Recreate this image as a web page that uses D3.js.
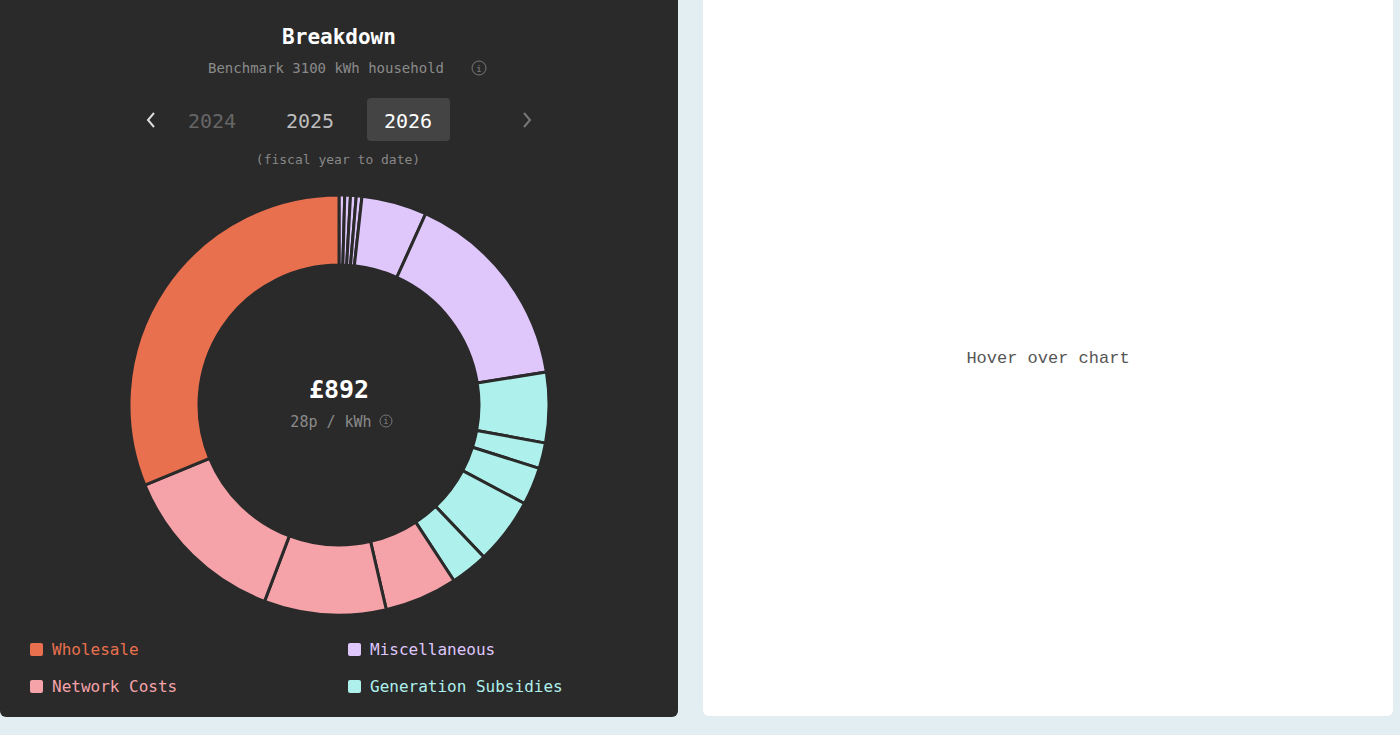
<!DOCTYPE html>
<html lang="en">
  <head>
    <script src="https://d3js.org/d3.v7.min.js"></script>
    <style>
      body { margin: 0; background: #e3eef3; font-family: "DejaVu Sans Mono", monospace; }
      #left { position: absolute; left: 0; top: 0; width: 678px; height: 717px; background: #2a2a2a; border-radius: 0 0 6px 6px; }
      #right { position: absolute; left: 703px; top: 0; width: 690px; height: 716px; background: #fff; border-radius: 0 0 6px 6px;
        display: flex; align-items: center; justify-content: center; color: #555; font-size: 17px; font-family: "Liberation Mono", monospace; }
    </style>
  </head>
  <body>
    <div id="left"></div>
    <div id="right">Hover over chart</div>
    <script>
      // segment values in £ for the 3100 kWh benchmark, clockwise from 12 o'clock
      const categories = ["Miscellaneous", "Generation Subsidies", "Network Costs", "Wholesale"];
      const segCategory = [0, 0, 0, 0, 0, 0, 1, 1, 1, 1, 1, 2, 2, 2, 3];
      const segValues = [3.9, 3.9, 3.9, 3.9, 44.8, 140.2, 48.3, 17.6, 25.8, 45.6, 25.8, 50, 83.7, 116, 278.5];
      const colors = ["#dfc6fb", "#aef0ec", "#f5a3a9", "#e9704f"];
      const years = ["2024", "2025", "2026"];
      const total = "£892";
      const perKwh = "28p / kWh";

      const svg = d3.select("#left").append("svg").attr("width", 678).attr("height", 717);
      const mono = "'DejaVu Sans Mono', monospace";

      svg.append("text").attr("x", 339).attr("y", 44).attr("text-anchor", "middle")
        .attr("fill", "#fff").attr("font-size", 21).attr("font-weight", 700).attr("font-family", mono).text("Breakdown");
      svg.append("text").attr("x", 326).attr("y", 73).attr("text-anchor", "middle")
        .attr("fill", "#8a8a8a").attr("font-size", 14).attr("font-family", mono).text("Benchmark 3100 kWh household");
      svg.append("circle").attr("cx", 479).attr("cy", 68).attr("r", 7).attr("fill", "none").attr("stroke", "#777");
      svg.append("text").attr("x", 479).attr("y", 72).attr("text-anchor", "middle").attr("fill", "#888").attr("font-size", 9).text("i");

      // year selector
      svg.append("rect").attr("x", 367).attr("y", 98).attr("width", 83).attr("height", 43).attr("rx", 4).attr("fill", "#444");
      const yx = d3.scalePoint().domain(years).range([212, 408]);
      const yFill = ["#666", "#bdbdbd", "#fff"];
      years.forEach((y, i) => {
        svg.append("text").attr("x", yx(y)).attr("y", 128).attr("text-anchor", "middle")
          .attr("fill", yFill[i]).attr("font-size", 20).attr("font-family", mono).text(y);
      });
      svg.append("path").attr("d", "M154,113 L148,120 L154,127").attr("fill", "none").attr("stroke", "#ddd").attr("stroke-width", 2);
      svg.append("path").attr("d", "M524,113 L530,120 L524,127").attr("fill", "none").attr("stroke", "#777").attr("stroke-width", 2);
      svg.append("text").attr("x", 338).attr("y", 164).attr("text-anchor", "middle")
        .attr("fill", "#888").attr("font-size", 13).attr("font-family", mono).text("(fiscal year to date)");

      // donut
      const g = svg.append("g").attr("transform", "translate(339,405)");
      const pie = d3.pie().sort(null).value(d => d)(segValues);
      const arc = d3.arc().innerRadius(140).outerRadius(210);
      g.selectAll("path").data(pie).join("path")
        .attr("d", arc)
        .attr("fill", (d, i) => colors[segCategory[i]])
        .attr("stroke", "#2a2a2a").attr("stroke-width", 3);

      g.append("text").attr("y", -7).attr("text-anchor", "middle").attr("fill", "#fff")
        .attr("font-size", 25).attr("font-weight", 700).attr("font-family", mono).text(total);
      g.append("text").attr("x", -8).attr("y", 22).attr("text-anchor", "middle").attr("fill", "#8a8a8a")
        .attr("font-size", 15).attr("font-family", mono).text(perKwh);
      g.append("circle").attr("cx", 47).attr("cy", 16).attr("r", 6).attr("fill", "none").attr("stroke", "#777");
      g.append("text").attr("x", 47).attr("y", 19).attr("text-anchor", "middle").attr("fill", "#888").attr("font-size", 8).text("i");

      // legend
      const legendOrder = [3, 0, 2, 1];
      legendOrder.forEach((c, i) => {
        const lx = i % 2 === 0 ? 30 : 348;
        const ly = i < 2 ? 651 : 688;
        svg.append("rect").attr("x", lx).attr("y", ly - 8).attr("width", 13).attr("height", 13).attr("rx", 2).attr("fill", colors[c]);
        svg.append("text").attr("x", lx + 22).attr("y", ly + 4).attr("fill", colors[c])
          .attr("font-size", 16).attr("font-family", mono).text(categories[c]);
      });
    </script>
  </body>
</html>
